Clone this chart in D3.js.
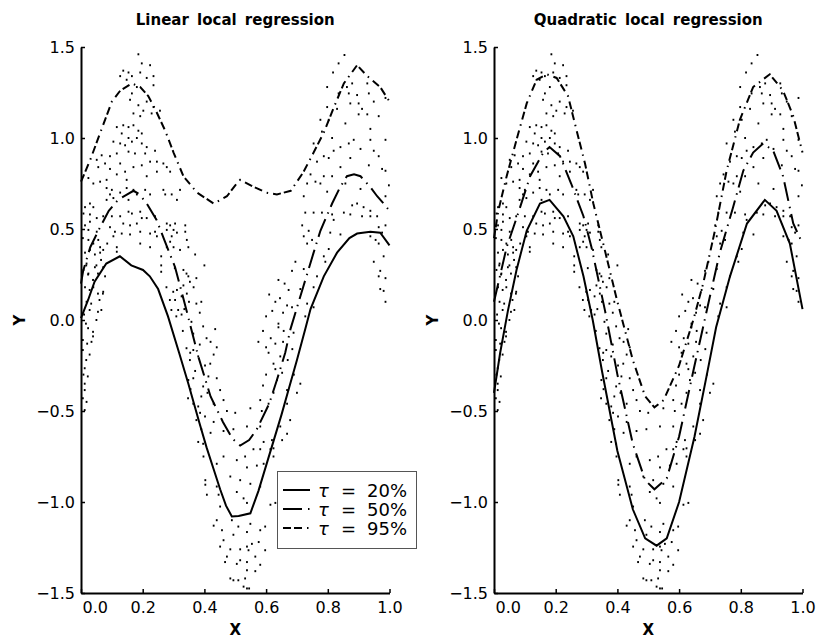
<!DOCTYPE html>
<html lang="en">
<head>
<meta charset="UTF-8">
<title>Local quantile regression</title>
<style>
    body { margin: 0; background: #fff; }
    svg text { font-family: "DejaVu Sans", sans-serif; fill: #000; }
</style>
</head>
<body>
<svg id="chart" width="819" height="641"></svg>
<script src="https://d3js.org/d3.v7.min.js"></script>
<script>
    /* global d3 */

    const xTicks = [0, 0.2, 0.4, 0.6, 0.8, 1.0];
    const yTicks = [-1.5, -1.0, -0.5, 0.0, 0.5, 1.0, 1.5];
    const panelTitles = ["Linear local regression", "Quadratic local regression"];
    const quantiles = ["20%", "50%", "95%"];

    // fitted quantile curves, [x, y]
    const lin20 = [[0,0.01],[0.023,0.11],[0.044,0.21],[0.082,0.31],[0.126,0.35],[0.163,0.30],[0.201,0.275],[0.223,0.24],[0.25,0.17],[0.282,0.02],[0.318,-0.18],[0.348,-0.35],[0.383,-0.56],[0.407,-0.70],[0.43,-0.82],[0.451,-0.93],[0.47,-1.02],[0.489,-1.08],[0.511,-1.077],[0.549,-1.062],[0.575,-0.94],[0.6,-0.8],[0.625,-0.66],[0.65,-0.52],[0.675,-0.37],[0.7,-0.22],[0.727,-0.05],[0.744,0.06],[0.787,0.24],[0.83,0.37],[0.87,0.45],[0.895,0.475],[0.938,0.485],[0.97,0.48],[1.0,0.41]];
    const lin50 = [[0,0.2],[0.007,0.27],[0.03,0.4],[0.062,0.51],[0.09,0.6],[0.12,0.66],[0.15,0.69],[0.17,0.71],[0.19,0.69],[0.213,0.64],[0.245,0.55],[0.27,0.44],[0.305,0.29],[0.327,0.15],[0.35,0.0],[0.38,-0.2],[0.42,-0.42],[0.46,-0.56],[0.49,-0.65],[0.516,-0.69],[0.545,-0.66],[0.57,-0.6],[0.61,-0.46],[0.635,-0.33],[0.662,-0.18],[0.679,-0.05],[0.72,0.18],[0.754,0.37],[0.776,0.49],[0.814,0.64],[0.84,0.73],[0.862,0.79],[0.885,0.80],[0.906,0.79],[0.938,0.73],[0.96,0.68],[0.981,0.64],[1.0,0.6]];
    const lin95 = [[0,0.76],[0.03,0.88],[0.067,1.05],[0.1,1.2],[0.127,1.26],[0.165,1.3],[0.192,1.28],[0.218,1.23],[0.24,1.16],[0.273,1.04],[0.3,0.92],[0.332,0.79],[0.376,0.70],[0.43,0.64],[0.473,0.68],[0.5,0.74],[0.516,0.77],[0.55,0.74],[0.6,0.70],[0.635,0.69],[0.68,0.71],[0.72,0.81],[0.754,0.92],[0.787,1.03],[0.82,1.17],[0.852,1.30],[0.895,1.40],[0.928,1.34],[0.97,1.28],[1.0,1.2]];
    const quad20 = [[0,-0.4],[0.02,-0.18],[0.045,0.05],[0.073,0.275],[0.106,0.49],[0.149,0.64],[0.18,0.66],[0.225,0.57],[0.257,0.46],[0.29,0.24],[0.32,0.0],[0.35,-0.28],[0.4,-0.72],[0.45,-1.04],[0.49,-1.2],[0.527,-1.24],[0.56,-1.2],[0.6,-1.0],[0.65,-0.64],[0.69,-0.3],[0.72,-0.04],[0.765,0.24],[0.82,0.53],[0.878,0.66],[0.916,0.60],[0.959,0.42],[1.0,0.06]];
    const quad50 = [[0,0.1],[0.041,0.40],[0.079,0.59],[0.117,0.79],[0.16,0.92],[0.18,0.95],[0.214,0.9],[0.25,0.75],[0.29,0.57],[0.316,0.40],[0.36,0.05],[0.4,-0.3],[0.45,-0.68],[0.49,-0.88],[0.52,-0.93],[0.56,-0.87],[0.6,-0.64],[0.65,-0.25],[0.7,0.13],[0.732,0.37],[0.775,0.62],[0.808,0.82],[0.84,0.92],[0.873,0.97],[0.905,0.93],[0.937,0.79],[0.97,0.53],[1.0,0.42]];
    const quad95 = [[0,0.45],[0.014,0.6],[0.041,0.79],[0.073,0.99],[0.106,1.19],[0.138,1.32],[0.171,1.35],[0.203,1.33],[0.24,1.23],[0.268,1.04],[0.295,0.86],[0.322,0.64],[0.354,0.42],[0.4,0.1],[0.45,-0.22],[0.49,-0.42],[0.52,-0.48],[0.55,-0.44],[0.6,-0.25],[0.646,0.0],[0.678,0.2],[0.716,0.49],[0.754,0.82],[0.797,1.1],[0.84,1.28],[0.894,1.35],[0.937,1.26],[0.97,1.12],[1.0,0.92]];

    // observations (same in both panels), [x, y]
    const obs = [
        [0.186,1.46],[0.197,1.41],[0.224,1.40],[0.137,1.37],[0.154,1.36],[0.192,1.36],[0.127,1.34],[0.165,1.34],[0.148,1.32],[0.213,1.33],[0.235,1.34],[0.235,1.29],[0.165,1.245],[0.181,1.28],[0.159,1.21],[0.186,1.18],[0.213,1.2],[0.235,1.17],[0.256,1.15],[0.202,1.15],[0.229,1.135],[0.17,1.135],[0.192,1.12],
        [0.116,1.06],[0.137,1.07],[0.154,1.06],[0.17,1.07],[0.186,1.04],[0.197,1.025],[0.132,1.025],[0.181,1.0],[0.154,1.0],[0.105,0.98],[0.127,0.97],[0.143,0.96],[0.165,0.98],[0.197,0.97],[0.213,0.95],[0.24,0.93],[0.154,0.925],[0.175,0.915],[0.208,0.915],[0.116,0.915],[0.067,0.905],[0.094,0.9],[0.051,0.88],[0.078,0.86],[0.094,0.83],[0.056,0.84],[0.127,0.86],[0.17,0.84],[0.197,0.85],[0.224,0.87],[0.246,0.87],[0.267,0.86],[0.278,0.84],[0.143,0.815],[0.116,0.80],[0.213,0.79],[0.246,0.815],[0.289,0.815],[0.024,0.78],[0.04,0.75],[0.062,0.76],[0.083,0.77],[0.148,0.77],[0.083,0.725],[0.1,0.715],[0.094,0.69],[0.127,0.70],[0.148,0.725],[0.17,0.715],[0.181,0.69],[0.208,0.715],[0.224,0.69],[0.267,0.715],[0.273,0.69],[0.294,0.69],[0.321,0.715],[0.311,0.66],[0.083,0.66],[0.105,0.67],[0.154,0.66],
        [0.029,0.64],[0.013,0.62],[0.04,0.62],[0.008,0.585],[0.029,0.58],[0.051,0.56],[0.072,0.57],[0.1,0.57],[0.127,0.57],[0.154,0.595],[0.165,0.585],[0.192,0.595],[0.197,0.56],[0.213,0.56],[0.24,0.57],[0.278,0.53],[0.289,0.52],[0.305,0.53],[0.3,0.495],[0.338,0.52],[0.311,0.48],[0.029,0.54],[0.013,0.52],[0.024,0.495],[0.051,0.485],[0.094,0.51],[0.11,0.485],[0.137,0.53],[0.159,0.52],[0.181,0.53],[0.105,0.46],[0.132,0.475],[0.159,0.47],[0.224,0.475],[0.24,0.485],[0.192,0.485],[0.246,0.46],[0.278,0.495],[0.294,0.46],[0.289,0.43],[0.338,0.485],[0.343,0.44],[0.024,0.44],[0.04,0.42],[0.056,0.44],[0.029,0.385],[0.013,0.37],[0.062,0.40],[0.062,0.37],[0.072,0.385],[0.116,0.40],[0.116,0.375],[0.192,0.42],[0.224,0.40],[0.278,0.40],[0.3,0.40],[0.321,0.385],[0.348,0.40],[0.37,0.36],[0.4,0.3],
        [0.018,0.31],[0.008,0.275],[0.024,0.255],[0.045,0.29],[0.072,0.29],[0.078,0.24],[0.013,0.18],[0.04,0.18],[0.072,0.155],[0.332,0.275],[0.348,0.24],[0.332,0.19],[0.365,0.18],[0.311,0.165],[0.343,0.145],[0.305,0.11],
        [0.017,0.30],[0.023,0.25],[0.039,0.22],[0.055,0.255],[0.05,0.30],[0.028,0.165],[0.055,0.145],[0.071,0.145],[0.06,0.11],[0.028,0.055],[0.055,0.045],[0.066,0.055],[0.05,0.0],[0.023,-0.045],[0.039,-0.065],[0.039,-0.09],[0.006,-0.11],[0.006,-0.165],[0.028,-0.19],[0.012,-0.265],[0.012,-0.35],[0.012,-0.385],[0.012,-0.495],[0.006,-0.43],
        [0.018,0.1],[0.01,0.03],[0.033,0.09],[0.016,-0.02],[0.02,-0.13],[0.034,-0.12],[0.017,-0.22],[0.022,-0.31],[0.008,-0.3],[0.018,-0.45],[0.006,0.45],[0.045,0.36],[0.065,0.33],[0.085,0.42],
        [0.26,0.35],[0.26,0.30],[0.26,0.265],[0.304,0.285],[0.342,0.255],[0.353,0.21],[0.374,0.23],[0.277,0.18],[0.299,0.155],[0.288,0.11],[0.326,0.13],[0.374,0.09],[0.39,0.10],[0.293,0.055],[0.315,0.055],[0.309,0.02],[0.326,0.03],[0.358,-0.01],[0.364,-0.075],[0.396,-0.035],[0.407,-0.1],[0.385,-0.135],[0.364,-0.165],[0.342,-0.155],[0.353,-0.22],[0.38,-0.2],[0.402,-0.25],[0.364,-0.32],[0.396,-0.365],[0.347,-0.43],[0.364,-0.46],[0.38,-0.475],[0.374,-0.55],[0.402,-0.53],[0.38,-0.67],[0.396,-0.68],
        [0.335,0.06],[0.35,0.1],[0.385,0.04],[0.33,-0.06],[0.37,-0.28],[0.39,-0.42],[0.41,-0.4],[0.42,-0.62],[0.39,-0.6],[0.355,-0.38],
        [0.354,-0.18],[0.419,-0.24],[0.43,-0.19],[0.42,-0.12],[0.44,-0.15],[0.435,-0.05],[0.413,-0.31],[0.348,-0.33],[0.44,-0.32],[0.451,-0.385],[0.43,-0.46],[0.462,-0.44],[0.386,-0.51],[0.43,-0.56],[0.473,-0.50],[0.5,-0.51],[0.549,-0.485],[0.462,-0.61],[0.494,-0.60],[0.538,-0.585],[0.581,-0.585],[0.592,-0.67],[0.559,-0.71],[0.581,-0.71],[0.532,-0.75],[0.505,-0.77],[0.462,-0.75],[0.44,-0.79],[0.397,-0.75],[0.614,-0.71],[0.624,-0.75],[0.592,-0.79],[0.57,-0.80],[0.538,-0.81],[0.484,-0.86],[0.516,-0.88],[0.549,-0.90],[0.581,-0.915],[0.403,-0.88],[0.403,-0.905],[0.44,-0.915],[0.408,-0.96],[0.446,-0.96],[0.505,-0.945],[0.527,-0.98],[0.538,-1.005],[0.614,-1.015],[0.63,-1.005],[0.451,-1.025],[0.44,-1.1],[0.43,-1.13],[0.457,-1.155],[0.489,-1.1],[0.51,-1.135],[0.549,-1.12],[0.581,-1.155],[0.597,-1.135],[0.538,-1.165],[0.494,-1.18],[0.462,-1.21],[0.451,-1.245],[0.484,-1.26],[0.516,-1.26],[0.538,-1.245],[0.554,-1.23],[0.576,-1.22],[0.543,-1.265],[0.597,-1.265],[0.473,-1.30],[0.505,-1.34],[0.516,-1.32],[0.538,-1.375],[0.565,-1.38],[0.484,-1.42],[0.494,-1.43],[0.51,-1.43],[0.527,-1.465],[0.538,-1.475],
        [0.467,-1.33],[0.538,-1.33],[0.581,-1.345],[0.565,-1.30],[0.532,-1.42],[0.545,-1.475],
        [0.608,-0.18],[0.624,-0.24],[0.646,-0.2],[0.63,-0.27],[0.652,-0.29],[0.635,-0.33],[0.668,-0.385],[0.7,-0.40],[0.711,-0.35],[0.624,-0.40],[0.581,-0.44],[0.608,-0.46],[0.668,-0.46],[0.586,-0.50],[0.678,-0.55],[0.646,-0.585],[0.619,-0.66],[0.652,-0.66],[0.668,-0.625],[0.624,-0.705],
        [0.575,-0.12],[0.59,-0.06],[0.6,-0.15],[0.615,-0.1],[0.63,-0.13],[0.6,0.02],[0.62,0.05],[0.645,0.12],[0.66,0.2],[0.64,-0.02],
        [0.6,-0.3],[0.59,-0.36],[0.655,-0.12],[0.67,-0.22],[0.685,-0.16],[0.69,-0.3],[0.63,0.1],[0.655,0.04],[0.61,0.14],[0.64,0.22],
        [0.854,1.456],[0.835,1.41],[0.817,1.36],[0.798,1.28],[0.862,1.28],[0.879,1.30],[0.928,1.30],[0.835,1.245],[0.868,1.245],[0.895,1.236],[0.933,1.245],[0.949,1.2],[0.987,1.22],[0.873,1.19],[0.9,1.19],[0.798,1.17],[0.83,1.16],[0.911,1.16],[0.928,1.13],[0.9,1.13],[0.965,1.12],[0.776,1.10],[0.803,1.10],[0.857,1.08],[0.938,1.05],[0.987,0.99],[0.781,1.035],[0.814,1.0],[0.868,0.97],[0.841,0.95],[0.884,0.99],[0.938,0.99],[0.906,0.94],[0.949,0.93],[0.754,0.97],[0.819,0.93],[0.787,0.90],[0.873,0.89],[0.965,0.90],[0.765,0.87],[0.803,0.89],[0.841,0.84],[0.933,0.85],[0.976,0.83],[0.987,0.82],
        [0.744,0.80],[0.76,0.76],[0.787,0.79],[0.814,0.79],[0.776,0.75],[0.733,0.75],[0.798,0.705],[0.857,0.75],[0.906,0.72],[0.998,0.74],[0.987,0.68],[0.722,0.68],[0.895,0.64],[0.879,0.63],[0.916,0.62],[0.938,0.60],[0.727,0.59],[0.754,0.59],[0.781,0.59],[0.814,0.58],[0.852,0.59],[0.873,0.58],[0.911,0.57],[0.938,0.57],[0.96,0.57],[0.819,0.55],[0.717,0.52],[0.738,0.49],[0.722,0.46],[0.749,0.44],[0.808,0.48],[0.841,0.47],[0.965,0.51],[0.987,0.52],[0.976,0.48],[0.938,0.46],[0.955,0.44],[0.965,0.42],[0.733,0.42],[0.803,0.39],[0.787,0.35],[0.695,0.32],[0.684,0.27],[0.722,0.28],[0.792,0.32],[0.949,0.32],[0.981,0.35],[0.765,0.24],[0.97,0.27],[0.965,0.24],[0.987,0.23],[0.673,0.165],[0.711,0.17],[0.754,0.18],[0.733,0.09],[0.668,0.08],[0.684,0.07],[0.97,0.17],[0.981,0.16],[0.987,0.10],[0.727,0.02],[0.64,-0.04],[0.657,-0.06],[0.689,-0.07],[0.754,0.07]
    ];

    const series = [
        {label: quantiles[0], dash: null},
        {label: quantiles[1], dash: "19,6,1.5,6"},
        {label: quantiles[2], dash: "8,3,8,5,1.5,5"}
    ];

    const svg = d3.select("#chart"),
        plotTop = 47, plotBottom = 593,
        panelLeft = [81, 494],
        panelW = 308.5;

    const y = d3.scaleLinear().domain([-1.5, 1.5]).range([plotBottom, plotTop]);

    function drawPanel(i, curves) {
        const x = d3.scaleLinear().domain([0, 1]).range([panelLeft[i], panelLeft[i] + panelW]);
        const g = svg.append("g");
        const cx = panelLeft[i] + panelW / 2;

        g.append("text")
            .attr("x", cx).attr("y", 25)
            .attr("text-anchor", "middle")
            .style("font-size", "15px").style("font-weight", "bold")
            .style("word-spacing", "3px")
            .text(panelTitles[i]);

        // points
        g.append("g").selectAll("rect").data(obs).join("rect")
            .attr("x", d => x(d[0]) - 0.9)
            .attr("y", d => y(d[1]) - 1)
            .attr("width", 1.8).attr("height", 2)
            .attr("fill", "#000");

        const line = d3.line().x(d => x(d[0])).y(d => y(d[1]));
        curves.forEach((c, k) => {
            g.append("path")
                .attr("d", line(c))
                .attr("fill", "none")
                .attr("stroke", "#000")
                .attr("stroke-width", 2)
                .attr("stroke-dasharray", series[k].dash);
        });

        const xa = g.append("g")
            .attr("transform", `translate(0,${plotBottom})`)
            .call(d3.axisBottom(x).tickValues(xTicks).tickFormat(d3.format(".1f"))
                .tickSizeInner(-4).tickSizeOuter(0).tickPadding(9));
        xa.selectAll(".tick text").filter(d => d === 0)
            .attr("text-anchor", "start").attr("x", 1);

        const ya = g.append("g")
            .attr("transform", `translate(${panelLeft[i]},0)`)
            .call(d3.axisLeft(y).tickValues(yTicks).tickFormat(d3.format(".1f"))
                .tickSizeInner(-4).tickSizeOuter(0).tickPadding(6));

        [xa, ya].forEach(a => {
            a.select(".domain").attr("stroke", "#000").attr("stroke-width", 2);
            a.selectAll(".tick line").attr("stroke", "#000").attr("stroke-width", 1.5);
            a.selectAll(".tick text").style("font-family", "DejaVu Sans").style("font-size", "16px").attr("fill", "#000");
        });

        g.append("text")
            .attr("x", cx).attr("y", 635)
            .attr("text-anchor", "middle")
            .style("font-size", "15px").style("font-weight", "bold")
            .text("X");

        g.append("text")
            .attr("transform", `translate(${panelLeft[i] - 56},${y(0)}) rotate(-90)`)
            .attr("text-anchor", "middle")
            .style("font-size", "15px").style("font-weight", "bold")
            .text("Y");
    }

    drawPanel(0, [lin20, lin50, lin95]);
    drawPanel(1, [quad20, quad50, quad95]);

    // legend (left panel)
    const lg = svg.append("g");
    lg.append("rect")
        .attr("x", 277.5).attr("y", 471.5)
        .attr("width", 139).attr("height", 77)
        .attr("fill", "#fff").attr("stroke", "#555").attr("stroke-width", 1);

    series.forEach((s, k) => {
        const by = 497 + k * 19;
        lg.append("line")
            .attr("x1", 283).attr("x2", 310)
            .attr("y1", by - 7).attr("y2", by - 7)
            .attr("stroke", "#000").attr("stroke-width", 2)
            .attr("stroke-dasharray", s.dash);
        lg.append("text").attr("x", 318).attr("y", by)
            .style("font-size", "18px").style("font-style", "italic")
            .text("τ");
        lg.append("text").attr("x", 341).attr("y", by)
            .style("font-size", "18px")
            .text("=");
        lg.append("text").attr("x", 407).attr("y", by)
            .attr("text-anchor", "end")
            .style("font-size", "18px")
            .text(s.label);
    });
</script>
</body>
</html>
